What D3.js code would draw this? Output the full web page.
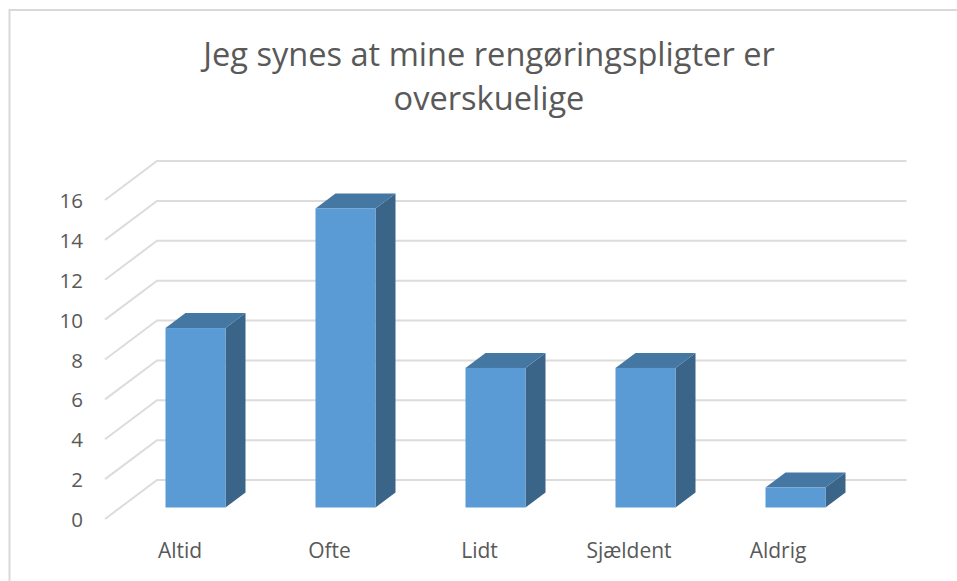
<!DOCTYPE html>
<html><head><meta charset="utf-8">
<style>html,body{margin:0;padding:0;background:#fff}svg{display:block}text{font-family:"Open Sans",sans-serif;fill:#595959}</style>
<script src="https://cdn.jsdelivr.net/npm/d3@7"></script></head><body>
<script>
const categories = ["Altid","Ofte","Lidt","Sjældent","Aldrig"];
const values = [9,15,7,7,1];
const yTicks = [0,2,4,6,8,10,12,14,16];
const titleLines = ["Jeg synes at mine rengøringspligter er","overskuelige"];

const W=957,H=581;
const svg=d3.select("body").append("svg").attr("width",W).attr("height",H);
svg.append("path").attr("d","M9.5,581V10H957").attr("fill","none").attr("stroke","#d9d9d9").attr("stroke-width",2);

const y=d3.scaleLinear().domain([0,16]).range([507.5,188.5]);
const x=d3.scaleBand().domain(categories).range([120.5,870.5]).paddingInner(.6).paddingOuter(.3);
const floorOff=[-15.5,11.5], barDepth=[20,-15];

const grid=svg.append("g").attr("fill","none").attr("stroke","#dcdcdc").attr("stroke-width",2);
yTicks.forEach(t=>{
  const fy=y(t)+floorOff[1], fx=120.5+floorOff[0], by=fy-39, bx=fx+52;
  grid.append("path").attr("d",d3.line()([[fx,fy],[bx,by],[bx+749.5,by]]));
});
categories.forEach((c,i)=>{
  const g=svg.append("g"), x0=x(c), w=x.bandwidth(), yt=y(values[i]), yb=y(0), [dx,dy]=barDepth;
  g.append("path").attr("d",d3.line()([[x0+w,yt],[x0+w+dx,yt+dy],[x0+w+dx,yb+dy],[x0+w,yb]])+"Z").attr("fill","#3a6488");
  g.append("path").attr("d",d3.line()([[x0,yt],[x0+dx,yt+dy],[x0+w+dx,yt+dy],[x0+w,yt]])+"Z").attr("fill","#4577a3");
  g.append("rect").attr("x",x0).attr("y",yt).attr("width",w).attr("height",yb-yt).attr("fill","#5b9bd5");
});
svg.append("g").selectAll("text").data(yTicks).join("text")
  .attr("x",83).attr("y",t=>y(t)+floorOff[1]+8).attr("text-anchor","end").attr("font-size",20.5).text(d=>d);
const labelX=[180,329.5,479.5,629,778];
svg.append("g").selectAll("text").data(categories).join("text")
  .attr("x",(d,i)=>labelX[i]).attr("y",558).attr("text-anchor","middle").attr("font-size",21).text(d=>d);
svg.append("g").selectAll("text").data(titleLines).join("text")
  .attr("x",489).attr("y",(d,i)=>66+i*44).attr("text-anchor","middle").attr("font-size",32.6).text(d=>d);
</script></body></html>
